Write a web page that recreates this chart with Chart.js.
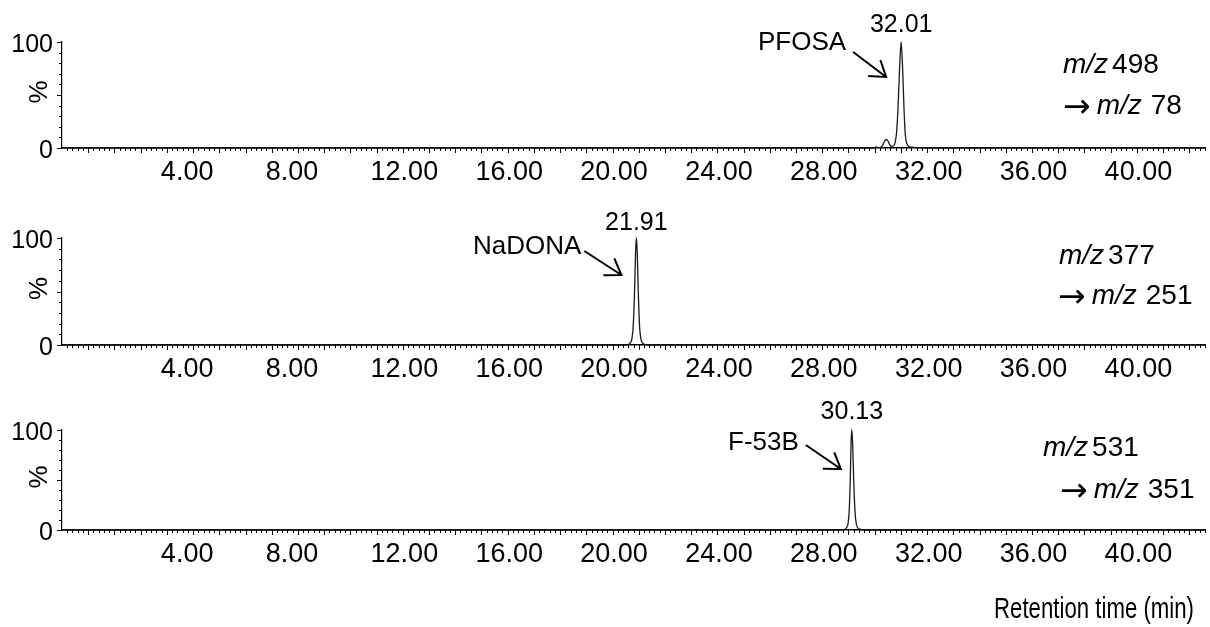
<!DOCTYPE html>
<html>
<head>
<meta charset="utf-8">
<script src="https://cdn.jsdelivr.net/npm/chart.js@4.4.1/dist/chart.umd.min.js"></script>
<style>
  html, body { margin: 0; padding: 0; background: #fff; }
  #wrap { position: relative; width: 1210px; height: 627px; overflow: hidden; background: #fff; }
  #wrap canvas { position: absolute; left: 0; top: 0; }
</style>
</head>
<body>
<div id="wrap">
  <canvas id="c0" width="1210" height="627"></canvas>
  <canvas id="c1" width="1210" height="627"></canvas>
  <canvas id="c2" width="1210" height="627"></canvas>
</div>
<script>
// ---- Axis ticks ----
const timeMax = 43.6;
const timeTickValues = [4, 8, 12, 16, 20, 24, 28, 32, 36, 40];
const intensityTickValues = [0, 100];

// ---- Compounds, apex retention times and MRM transitions ----
const compounds = ['PFOSA', 'NaDONA', 'F-53B'];
const apexTimes = [32.01, 21.91, 30.13];
const precursorMz = [498, 377, 531];
const productMz = [78, 251, 351];

// ---- Chromatogram traces: retention time (min) / relative intensity (%) ----
const pfosaTime = [0, 30.95, 31.05, 31.15, 31.25, 31.32, 31.38, 31.45, 31.52, 31.58, 31.65, 31.72, 31.78,
  31.84, 31.89, 31.95, 32.01, 32.07, 32.12, 32.17, 32.23, 32.3, 32.42, 32.6, 33.0, 43.6];
const pfosaIntensity = [0, 0, 1, 0.4, 1, 3.5, 6.5, 8, 6, 3, 1.5, 2, 5,
  16, 38, 75, 100, 72, 36, 12, 4, 1.5, 0.8, 0.4, 0, 0];

const nadonaTime = [0, 21.5, 21.6, 21.68, 21.74, 21.79, 21.84, 21.88, 21.91, 21.94, 21.98, 22.03, 22.08,
  22.14, 22.22, 22.35, 43.6];
const nadonaIntensity = [0, 0, 0.5, 2, 6, 18, 50, 88, 100, 88, 52, 18, 6,
  2, 0.6, 0, 0];

const f53bTime = [0, 29.75, 29.85, 29.92, 29.98, 30.03, 30.07, 30.1, 30.13, 30.16, 30.2, 30.25, 30.3,
  30.36, 30.44, 30.55, 43.6];
const f53bIntensity = [0, 0, 0.6, 2, 6, 20, 52, 88, 100, 86, 50, 18, 6,
  2, 0.8, 0, 0];

const traceTimes = [pfosaTime, nadonaTime, f53bTime];
const traceIntensities = [pfosaIntensity, nadonaIntensity, f53bIntensity];

// ---- Panel layout (pixels) ----
const FONT = "'Liberation Sans', Arial, Helvetica, sans-serif";
const ARROW_FONT = "'DejaVu Sans', sans-serif";
const panelLayout = [
  { top: 42, bottom: 148, apexDy: -17, nameDx: -55, nameDy: 1, arrow: [-48, 10, -15, 35],
    mz: [[1063, 65], [1063, 106]] },
  { top: 238, bottom: 345, apexDy: -15, nameDx: -55, nameDy: 9, arrow: [-52, 13, -15, 37],
    mz: [[1059, 256], [1058, 296]] },
  { top: 430, bottom: 530, apexDy: -18, nameDx: -53, nameDy: 13, arrow: [-46, 15, -11, 39],
    mz: [[1043, 448], [1060, 490]] }
];
const X_AXIS_HEIGHT = 40;
const Y_AXIS_WIDTH = 50;

function drawArrow(ctx, x0, y0, x1, y1) {
  const ang = Math.atan2(y0 - y1, x0 - x1);
  const head = 18, spread = 34 * Math.PI / 180;
  ctx.beginPath();
  ctx.moveTo(x0, y0);
  ctx.lineTo(x1, y1);
  ctx.moveTo(x1 + head * Math.cos(ang - spread), y1 + head * Math.sin(ang - spread));
  ctx.lineTo(x1, y1);
  ctx.lineTo(x1 + head * Math.cos(ang + spread), y1 + head * Math.sin(ang + spread));
  ctx.stroke();
}

function panelDecor(i) {
  const L = panelLayout[i];
  return {
    id: 'panelDecor' + i,
    afterDraw(chart) {
      const ctx = chart.ctx;
      const xs = chart.scales.x, ys = chart.scales.y;
      const area = chart.chartArea;
      ctx.save();

      // minor / major tick marks on both axes
      ctx.strokeStyle = '#000';
      ctx.lineWidth = 1;
      const nMinor = Math.floor(timeMax * 5 + 1e-6);
      for (let k = 1; k <= nMinor; k++) {
        const px = Math.round(xs.getPixelForValue(k / 5)) + 0.5;
        const len = k % 5 === 0 ? 5 : 3;
        ctx.beginPath();
        ctx.moveTo(px, area.bottom);
        ctx.lineTo(px, area.bottom + len);
        ctx.stroke();
      }
      for (let v = 0; v <= 100; v += 10) {
        const py = Math.round(ys.getPixelForValue(v)) + 0.5;
        const len = v % 50 === 0 ? 5 : 3;
        ctx.beginPath();
        ctx.moveTo(area.left - len, py);
        ctx.lineTo(area.left, py);
        ctx.stroke();
      }

      ctx.fillStyle = '#000';

      // y-axis title
      ctx.save();
      ctx.translate(40, (area.top + area.bottom) / 2 - 3);
      ctx.rotate(-Math.PI / 2);
      ctx.font = '26px ' + FONT;
      ctx.textAlign = 'center';
      ctx.textBaseline = 'middle';
      ctx.fillText('%', 0, 0);
      ctx.restore();

      // apex annotation
      const apexX = xs.getPixelForValue(apexTimes[i]);
      const topY = ys.getPixelForValue(100);
      ctx.font = '25px ' + FONT;
      ctx.textAlign = 'center';
      ctx.textBaseline = 'middle';
      ctx.fillText(apexTimes[i].toFixed(2), apexX, topY + L.apexDy);

      ctx.font = '26px ' + FONT;
      ctx.textAlign = 'right';
      ctx.fillText(compounds[i], apexX + L.nameDx, topY + L.nameDy);

      ctx.lineWidth = 2;
      ctx.lineCap = 'butt';
      const a = L.arrow;
      drawArrow(ctx, apexX + a[0], topY + a[1], apexX + a[2], topY + a[3]);

      // MRM transition
      ctx.textAlign = 'left';
      const italic = 'italic 28px ' + FONT, upright = '28px ' + FONT;
      let [x1, y1] = L.mz[0];
      ctx.font = italic;
      ctx.fillText('m/z', x1, y1);
      x1 += ctx.measureText('m/z').width + 4;
      ctx.font = upright;
      ctx.fillText(String(precursorMz[i]), x1, y1);

      let [x2, y2] = L.mz[1];
      ctx.font = '33px ' + ARROW_FONT;
      ctx.textBaseline = 'alphabetic';
      ctx.fillText('\u2192', x2, y2 + 11);
      x2 += ctx.measureText('\u2192').width + 6;
      ctx.textBaseline = 'middle';
      ctx.font = italic;
      ctx.fillText('m/z', x2, y2);
      x2 += ctx.measureText('m/z').width + 9;
      ctx.font = upright;
      ctx.fillText(String(productMz[i]), x2, y2);

      // shared x-axis title under the last panel (condensed face)
      if (i === panelLayout.length - 1) {
        const title = 'Retention time (min)';
        ctx.font = '29px ' + FONT;
        const w = ctx.measureText(title).width;
        const target = 200;
        ctx.save();
        ctx.translate(994, 610);
        ctx.scale(target / w, 1);
        ctx.textAlign = 'left';
        ctx.textBaseline = 'middle';
        ctx.fillText(title, 0, 0);
        ctx.restore();
      }
      ctx.restore();
    }
  };
}

function makePanel(i) {
  const L = panelLayout[i];
  const points = traceTimes[i].map((t, k) => ({ x: t, y: traceIntensities[i][k] }));
  return new Chart(document.getElementById('c' + i), {
    type: 'line',
    data: {
      datasets: [{
        data: points,
        borderColor: '#1a1a1a',
        borderWidth: 1.3,
        pointRadius: 0,
        fill: false,
        cubicInterpolationMode: 'monotone',
        clip: 4
      }]
    },
    options: {
      responsive: false,
      animation: false,
      devicePixelRatio: 1,
      events: [],
      layout: {
        padding: {
          left: 62 - Y_AXIS_WIDTH,
          right: 5,
          top: L.top,
          bottom: 627 - L.bottom - X_AXIS_HEIGHT
        }
      },
      plugins: { legend: { display: false }, tooltip: { enabled: false }, title: { display: false } },
      scales: {
        x: {
          type: 'linear',
          min: 0,
          max: timeMax,
          grid: { display: false, drawTicks: false },
          border: { display: true, color: '#000', width: 1.6 },
          ticks: {
            autoSkip: false,
            maxRotation: 0,
            align: 'start',
            labelOffset: -6,
            padding: 8,
            color: '#000',
            font: { family: FONT, size: 27 },
            callback: v => Number(v).toFixed(2)
          },
          afterBuildTicks: s => { s.ticks = timeTickValues.map(v => ({ value: v })); },
          afterFit: s => { s.height = X_AXIS_HEIGHT; s.paddingLeft = 0; s.paddingRight = 0; }
        },
        y: {
          type: 'linear',
          min: 0,
          max: 100,
          grid: { display: false, drawTicks: false },
          border: { display: true, color: '#000', width: 1.2 },
          ticks: {
            padding: 9,
            labelOffset: 3,
            color: '#000',
            font: { family: FONT, size: 25 }
          },
          afterBuildTicks: s => { s.ticks = intensityTickValues.map(v => ({ value: v })); },
          afterFit: s => { s.width = Y_AXIS_WIDTH; s.paddingTop = 0; s.paddingBottom = 0; }
        }
      }
    },
    plugins: [panelDecor(i)]
  });
}

for (let i = 0; i < panelLayout.length; i++) makePanel(i);
</script>
</body>
</html>
